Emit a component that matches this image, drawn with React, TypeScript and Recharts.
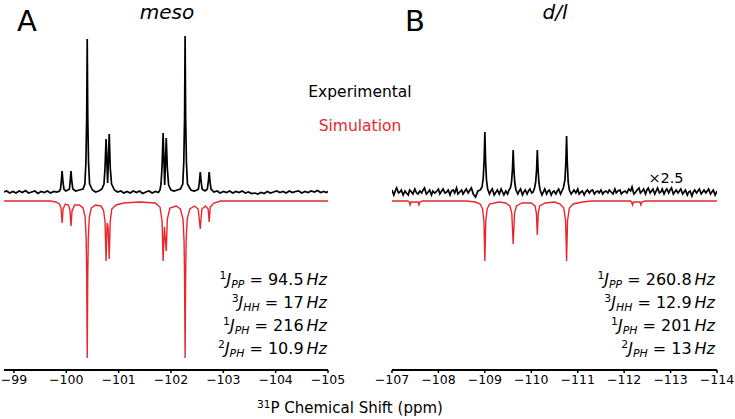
import React from 'react';
import { LineChart, Line, XAxis, YAxis } from 'recharts';

// ppm / intensity pairs (black = experimental, red = simulation)
const expMeso = [
  [-98.81, 0], [-98.86, 1], [-98.92, -1], [-98.98, 0.5], [-99.04, -1], [-99.1, 1], [-99.16, -0.5],
  [-99.22, 1.5], [-99.28, -1], [-99.34, 0], [-99.4, 1], [-99.46, -1.5], [-99.52, 0.5], [-99.58, -0.5],
  [-99.64, 1], [-99.7, -1], [-99.76, 0.5], [-99.82, 0], [-99.87, 1],
  [-99.89, 3], [-99.905, 11], [-99.92, 21], [-99.935, 11], [-99.955, 3],
  [-99.99, 1], [-100.03, 2],
  [-100.06, 3], [-100.075, 11], [-100.09, 21], [-100.105, 11], [-100.125, 3],
  [-100.18, 1], [-100.25, 2], [-100.32, 3],
  [-100.355, 8], [-100.375, 30], [-100.39, 75], [-100.4, 153], [-100.41, 75], [-100.425, 30], [-100.445, 8],
  [-100.5, 2], [-100.56, 0], [-100.62, 1], [-100.68, 3],
  [-100.72, 8], [-100.74, 24], [-100.76, 53], [-100.79, 9], [-100.82, 58], [-100.84, 24], [-100.865, 8],
  [-100.92, 2], [-100.98, 0], [-101.04, 1], [-101.1, -1], [-101.16, 0.5], [-101.22, -1], [-101.28, 1],
  [-101.34, -0.5], [-101.4, 1], [-101.46, -1.5], [-101.52, 0], [-101.58, 1], [-101.64, -1], [-101.7, 0.5],
  [-101.76, -0.5], [-101.79, 2],
  [-101.81, 8], [-101.83, 26], [-101.85, 59], [-101.88, 7], [-101.91, 54], [-101.93, 24], [-101.955, 7],
  [-102.0, 2], [-102.06, 1], [-102.12, 2], [-102.18, 3],
  [-102.225, 8], [-102.245, 30], [-102.26, 75], [-102.27, 156], [-102.28, 75], [-102.295, 30], [-102.315, 8],
  [-102.38, 2], [-102.44, 1], [-102.5, 2],
  [-102.525, 3], [-102.545, 11], [-102.56, 20], [-102.575, 11], [-102.595, 3],
  [-102.65, 1],
  [-102.695, 3], [-102.715, 11], [-102.73, 20], [-102.745, 11], [-102.765, 3],
  [-102.82, 0], [-102.88, 1], [-102.94, -1], [-103.0, 0.5], [-103.06, -0.5], [-103.12, 1], [-103.18, -1],
  [-103.24, 0.5], [-103.3, -0.5], [-103.36, 1], [-103.42, -1], [-103.48, 0], [-103.54, -1.5], [-103.6, -1],
  [-103.66, -2], [-103.72, -0.5], [-103.78, -1.5], [-103.84, 0.5], [-103.9, -1], [-103.96, 0], [-104.02, 1],
  [-104.08, -0.5], [-104.14, 0.5], [-104.2, -1], [-104.26, 1], [-104.32, -0.5], [-104.38, 0.5], [-104.44, 1],
  [-104.5, -1], [-104.56, 0.5], [-104.62, -0.5], [-104.68, 1], [-104.74, 0], [-104.8, 1.5], [-104.86, -0.5],
  [-104.92, 0.5], [-104.97, -0.5], [-105.0, 0.5],
];

const simMeso = [
  [-98.81, 0], [-99.7, 0], [-99.8, -1], [-99.87, -3], [-99.9, -7], [-99.92, -22], [-99.94, -8], [-99.98, -3],
  [-100.04, -4], [-100.07, -9], [-100.09, -25], [-100.11, -10], [-100.16, -4],
  [-100.25, -4], [-100.32, -7], [-100.36, -16], [-100.38, -38], [-100.39, -75], [-100.4, -157],
  [-100.41, -75], [-100.42, -38], [-100.44, -16], [-100.48, -7], [-100.56, -4], [-100.66, -5],
  [-100.71, -9], [-100.74, -20], [-100.76, -60], [-100.78, -22], [-100.8, -26], [-100.82, -58],
  [-100.84, -20], [-100.87, -8], [-100.95, -4], [-101.1, -2], [-101.4, -1], [-101.7, -2],
  [-101.79, -6], [-101.83, -20], [-101.85, -60], [-101.875, -26], [-101.91, -50], [-101.93, -18],
  [-101.98, -7], [-102.1, -5], [-102.18, -8], [-102.23, -18], [-102.25, -40], [-102.26, -78],
  [-102.27, -157], [-102.28, -78], [-102.29, -40], [-102.31, -18], [-102.36, -8], [-102.45, -5],
  [-102.52, -8], [-102.56, -28], [-102.59, -8], [-102.66, -5], [-102.71, -8], [-102.73, -21],
  [-102.75, -6], [-102.82, -2], [-102.95, 0], [-105.0, 0],
];

const expDl = [
  [-107.0, 2], [-107.04, -3], [-107.07, 1], [-107.1, 4], [-107.14, -1], [-107.17, 0], [-107.2, 2],
  [-107.24, -3], [-107.28, 1], [-107.31, -1], [-107.35, -3], [-107.38, 2], [-107.42, 0], [-107.45, -2],
  [-107.49, 3], [-107.53, -1], [-107.56, -2], [-107.6, 1], [-107.64, -1], [-107.67, 2], [-107.7, 4],
  [-107.74, -2], [-107.78, 0], [-107.81, 2], [-107.85, -3], [-107.88, 1], [-107.92, -1], [-107.95, 0],
  [-108.0, 3], [-108.03, -2], [-108.07, 1], [-108.1, 3], [-108.14, -1], [-108.18, 0], [-108.21, 2],
  [-108.25, -3], [-108.28, 1], [-108.32, 2], [-108.35, -1], [-108.39, 4], [-108.42, -2], [-108.46, 0],
  [-108.5, 2], [-108.53, -2], [-108.57, 1], [-108.6, 3], [-108.64, -1], [-108.68, 2], [-108.71, 4],
  [-108.75, -2], [-108.8, -5], [-108.85, 1], [-108.9, 2], [-108.94, 5],
  [-108.965, 14], [-108.985, 32], [-109.0, 60], [-109.015, 32], [-109.035, 12], [-109.06, 3],
  [-109.1, -2], [-109.13, 1], [-109.16, 3], [-109.2, -3], [-109.24, 0], [-109.27, 2], [-109.31, -2],
  [-109.35, 3], [-109.38, 0], [-109.41, -3], [-109.45, 1], [-109.49, -2], [-109.52, 2], [-109.55, 4],
  [-109.575, 10], [-109.595, 23], [-109.61, 42], [-109.625, 23], [-109.645, 9], [-109.67, 2],
  [-109.71, -2], [-109.74, 1], [-109.77, 3], [-109.81, -3], [-109.84, 0], [-109.87, 2], [-109.91, -2],
  [-109.94, 1], [-109.97, 3], [-110.01, -1], [-110.04, 0], [-110.07, 4],
  [-110.095, 10], [-110.115, 23], [-110.13, 42], [-110.145, 23], [-110.165, 9], [-110.19, 2],
  [-110.23, -3], [-110.26, 0], [-110.29, 3], [-110.33, -2], [-110.36, 1], [-110.39, 2], [-110.43, -3],
  [-110.46, 0], [-110.49, 1], [-110.53, -2], [-110.56, 1], [-110.59, 3], [-110.63, -2], [-110.66, 1],
  [-110.69, 4],
  [-110.725, 12], [-110.745, 30], [-110.76, 56], [-110.775, 30], [-110.795, 10], [-110.82, 2],
  [-110.86, -2], [-110.89, 0], [-110.92, 2], [-110.96, -1], [-111.0, 3], [-111.03, -2], [-111.07, 0],
  [-111.1, 1], [-111.14, -3], [-111.17, 0], [-111.21, 2], [-111.25, -1], [-111.28, 1], [-111.32, 2],
  [-111.36, -2], [-111.39, 0], [-111.43, 1], [-111.46, -1], [-111.5, 2], [-111.54, -2], [-111.57, 0],
  [-111.61, 1], [-111.65, -1], [-111.68, 2], [-111.72, 0], [-111.76, -2], [-111.8, 3], [-111.83, -1],
  [-111.87, 1], [-111.91, 2], [-111.94, -2], [-111.98, 0], [-112.02, 1], [-112.06, -1], [-112.1, 3],
  [-112.14, 1], [-112.17, 5], [-112.21, -2], [-112.25, 0], [-112.28, 2], [-112.32, 4], [-112.35, -1],
  [-112.39, 1], [-112.42, 3], [-112.46, -2], [-112.49, 2], [-112.52, 4], [-112.56, -1], [-112.59, 1],
  [-112.62, 3], [-112.66, -2], [-112.69, 1], [-112.72, 4], [-112.76, -1], [-112.79, 0], [-112.82, 3],
  [-112.86, -2], [-112.89, 1], [-112.92, 3], [-112.96, -1], [-112.99, 2], [-113.02, 4], [-113.06, -2],
  [-113.09, 0], [-113.12, 2], [-113.16, -1], [-113.19, 1], [-113.22, 3], [-113.26, -2], [-113.29, 0],
  [-113.32, 2], [-113.36, -3], [-113.39, 0], [-113.42, 1], [-113.46, -4], [-113.49, 0], [-113.52, 2],
  [-113.56, -1], [-113.59, 1], [-113.62, 3], [-113.66, -2], [-113.69, 0], [-113.72, 2], [-113.76, -1],
  [-113.79, 1], [-113.82, 3], [-113.86, -2], [-113.89, 0], [-113.92, 2], [-113.96, -3], [-114.0, 1],
];

const simDl = [
  [-107.0, 0], [-107.34, 0], [-107.37, -1], [-107.39, -4], [-107.41, -1], [-107.56, -1], [-107.58, -4],
  [-107.6, -1], [-107.65, 0], [-108.6, 0], [-108.8, -1], [-108.9, -3], [-108.95, -8], [-108.98, -20],
  [-109.0, -60], [-109.02, -20], [-109.05, -8], [-109.1, -3], [-109.3, -1], [-109.45, -2], [-109.54, -5],
  [-109.58, -12], [-109.61, -43], [-109.64, -12], [-109.68, -5], [-109.8, -2], [-110.0, -2],
  [-110.08, -5], [-110.11, -12], [-110.13, -34], [-110.15, -12], [-110.18, -5], [-110.3, -2],
  [-110.5, -1], [-110.62, -3], [-110.7, -7], [-110.74, -20], [-110.76, -60], [-110.78, -20],
  [-110.82, -7], [-110.9, -3], [-111.1, -1], [-111.3, 0], [-112.14, 0], [-112.16, -1], [-112.18, -4],
  [-112.2, -1], [-112.34, -1], [-112.36, -4], [-112.38, -1], [-112.45, 0], [-114.0, 0],
];

const ticksMeso = [-99, -100, -101, -102, -103, -104, -105];
const ticksDl = [-107, -108, -109, -110, -111, -112, -113, -114];

const couplingsMeso = [
  { sup: '1', sub: 'PP', value: '94.5' },
  { sup: '3', sub: 'HH', value: '17' },
  { sup: '1', sub: 'PH', value: '216' },
  { sup: '2', sub: 'PH', value: '10.9' },
];
const couplingsDl = [
  { sup: '1', sub: 'PP', value: '260.8' },
  { sup: '3', sub: 'HH', value: '12.9' },
  { sup: '1', sub: 'PH', value: '201' },
  { sup: '2', sub: 'PH', value: '13' },
];

const RED = '#e8262d';
const FONT = '"DejaVu Sans", sans-serif';

const toRows = (pts: number[][]) => pts.map(([x, y]) => ({ x, y }));
const fmt = (v: number) => `\u2212${Math.abs(v)}`;

interface PanelProps {
  exp: number[][];
  sim: number[][];
  ticks: number[];
  domain: [number, number];
  left: number;
  width: number;
  margin: { top: number; right: number; bottom: number; left: number };
}

const Panel: React.FC<PanelProps> = ({ exp, sim, ticks, domain, left, width, margin }) => (
  <div style={{ position: 'absolute', left, top: 0 }}>
    <LineChart width={width} height={419} margin={margin}>
      <XAxis
        type="number"
        dataKey="x"
        domain={domain}
        reversed
        allowDataOverflow
        ticks={ticks}
        interval={0}
        tickFormatter={fmt}
        height={49}
        tickSize={3}
        tickMargin={2}
        axisLine={{ stroke: '#000', strokeWidth: 2 }}
        tickLine={{ stroke: '#000', strokeWidth: 1.5 }}
        tick={{ fill: '#000', fontSize: 12.5, fontFamily: FONT }}
      />
      <YAxis yAxisId="exp" hide type="number" domain={[-178, 182]} allowDataOverflow />
      <YAxis yAxisId="sim" hide type="number" domain={[-169, 191]} allowDataOverflow />
      <Line
        yAxisId="sim"
        data={toRows(sim)}
        dataKey="y"
        type="linear"
        stroke={RED}
        strokeWidth={1.4}
        dot={false}
        isAnimationActive={false}
      />
      <Line
        yAxisId="exp"
        data={toRows(exp)}
        dataKey="y"
        type="linear"
        stroke="#000"
        strokeWidth={1.7}
        dot={false}
        isAnimationActive={false}
      />
    </LineChart>
  </div>
);

const small: React.CSSProperties = { fontSize: '0.68em', position: 'relative' };

const Couplings: React.FC<{ rows: typeof couplingsMeso; right: number }> = ({ rows, right }) => (
  <div
    style={{
      position: 'absolute',
      top: 269,
      right: 735 - right,
      fontFamily: FONT,
      fontSize: 16,
      lineHeight: '21px',
      textAlign: 'right',
      whiteSpace: 'nowrap',
    }}
  >
    {rows.map((r, i) => (
      <div key={i}>
        <span style={{ ...small, top: '-0.55em' }}>{r.sup}</span>
        <i>J</i>
        <i style={{ ...small, top: '0.3em' }}>{r.sub}</i>
        {' = '}
        {r.value}
        <i style={{ marginLeft: 3 }}>Hz</i>
      </div>
    ))}
  </div>
);

const label = (text: string, x: number, y: number, size: number, extra: React.CSSProperties = {}) => (
  <div
    style={{
      position: 'absolute',
      left: x,
      top: y,
      transform: 'translate(-50%, -50%)',
      fontFamily: FONT,
      fontSize: size,
      whiteSpace: 'nowrap',
      lineHeight: 1,
      ...extra,
    }}
  >
    {text}
  </div>
);

export default function App() {
  return (
    <div style={{ position: 'absolute', left: 0, top: 0, width: 735, height: 419, background: '#fff' }}>
      <Panel
        exp={expMeso}
        sim={simMeso}
        ticks={ticksMeso}
        domain={[-105, -98.81]}
        left={0}
        width={350}
        margin={{ top: 10, right: 22, bottom: 0, left: 4 }}
      />
      <Panel
        exp={expDl}
        sim={simDl}
        ticks={ticksDl}
        domain={[-114, -107]}
        left={368}
        width={367}
        margin={{ top: 10, right: 18, bottom: 0, left: 24 }}
      />
      {label('A', 27, 21, 29)}
      {label('meso', 167, 12, 20, { fontStyle: 'italic' })}
      {label('B', 415, 21, 29)}
      {label('d/l', 555, 12, 20, { fontStyle: 'italic' })}
      {label('Experimental', 360, 93, 15.5)}
      {label('Simulation', 360, 127, 15.5, { color: RED })}
      {label('\u00d72.5', 666, 178, 14.5)}
      <Couplings rows={couplingsMeso} right={327} />
      <Couplings rows={couplingsDl} right={715} />
      <div
        style={{
          position: 'absolute',
          left: 350,
          top: 408,
          transform: 'translate(-50%, -50%)',
          fontFamily: FONT,
          fontSize: 15,
          whiteSpace: 'nowrap',
          lineHeight: 1,
        }}
      >
        <span style={{ fontSize: '0.7em', position: 'relative', top: '-0.5em' }}>31</span>P Chemical Shift (ppm)
      </div>
    </div>
  );
}
